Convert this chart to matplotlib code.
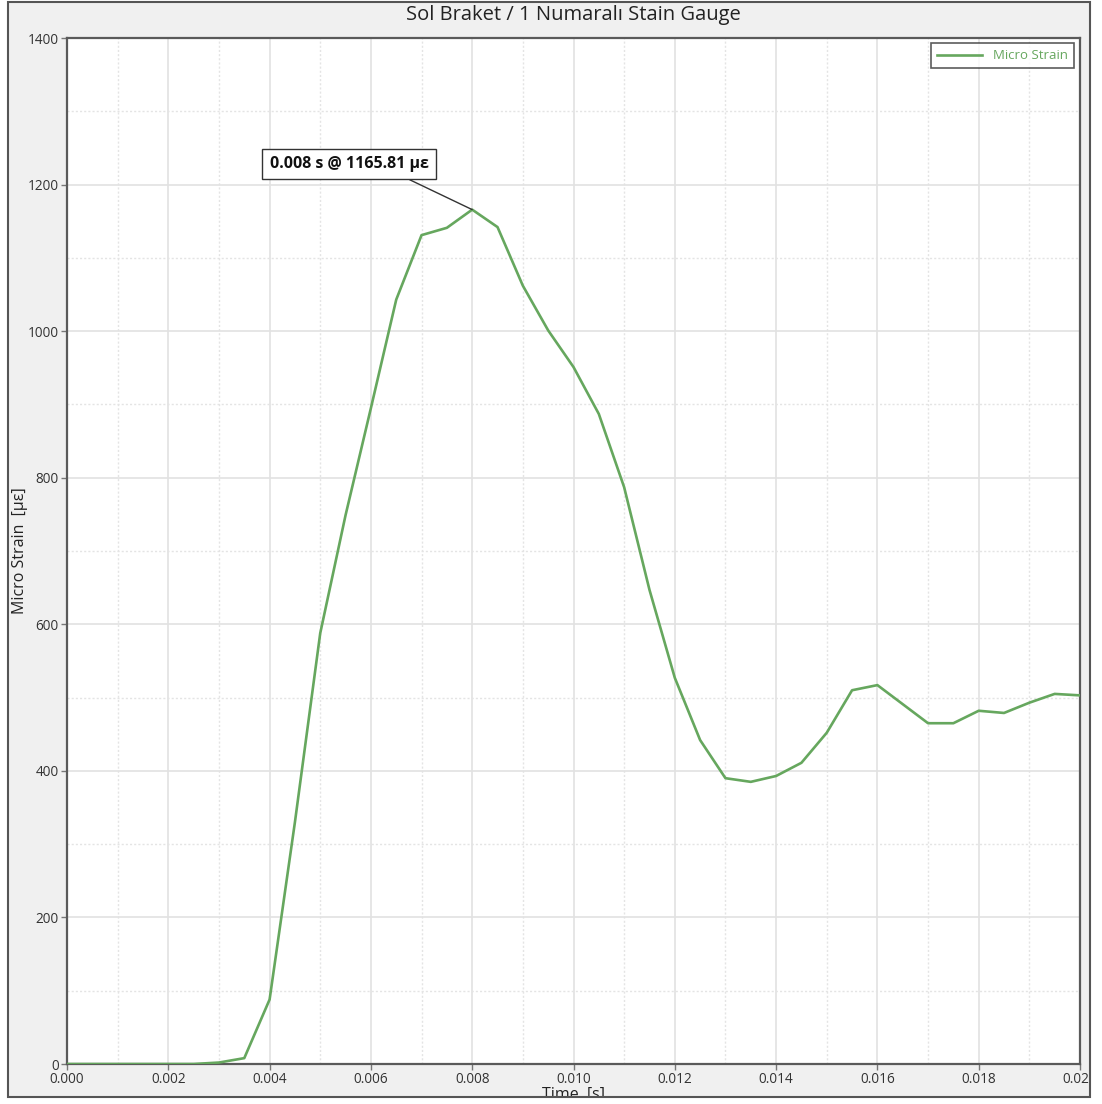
import matplotlib
matplotlib.use("Agg")
import matplotlib.pyplot as plt
from matplotlib.patches import Rectangle
from matplotlib.ticker import MultipleLocator, FormatStrFormatter

plt.rcParams['font.family'] = ['Open Sans', 'DejaVu Sans']

# Strain gauge record (time in seconds, micro strain)
time_s = [0.0000, 0.0005, 0.0010, 0.0015, 0.0020, 0.0025, 0.0030, 0.0035,
          0.0040, 0.0045, 0.0050, 0.0055, 0.0060, 0.0065, 0.0070, 0.0075,
          0.0080, 0.0085, 0.0090, 0.0095, 0.0100, 0.0105, 0.0110, 0.0115,
          0.0120, 0.0125, 0.0130, 0.0135, 0.0140, 0.0145, 0.0150, 0.0155,
          0.0160, 0.0165, 0.0170, 0.0175, 0.0180, 0.0185, 0.0190, 0.0195,
          0.0200]
micro_strain = [0, 0, 0, 0, 0, 0, 2, 8,
                88, 330, 588, 749, 895, 1043, 1131, 1141,
                1165.81, 1142, 1062, 1001, 951, 887, 787, 647,
                527, 442, 390, 385, 393, 411, 452, 510,
                517, 491, 465, 465, 482, 479, 493, 505,
                503]
peak_time = 0.008
peak_strain = 1165.81

title = "Sol Braket / 1 Numaralı Stain Gauge"
x_label = "Time  [s]"
y_label = "Micro Strain  [με]"
series_name = "Micro Strain"

W, H = 1102, 1104
fig = plt.figure(figsize=(W / 100, H / 100), dpi=100, facecolor='white')

# grey panel behind everything
fig.patches.append(Rectangle((8 / W, 1 - 1097 / H), (1090 - 8) / W, (1097 - 2) / H,
                             transform=fig.transFigure, facecolor='#f0f0f0',
                             edgecolor='none', zorder=-5))

ax = fig.add_axes([67 / W, 1 - 1064 / H, (1080 - 67) / W, (1064 - 38) / H])
ax.set_facecolor('white')

line_color = '#66a75e'
ax.plot(time_s, micro_strain, color=line_color, lw=1.9, label=series_name, zorder=3)

ax.set_xlim(0, 0.02)
ax.set_ylim(0, 1400)
ax.xaxis.set_major_locator(MultipleLocator(0.002))
ax.xaxis.set_minor_locator(MultipleLocator(0.001))
ax.yaxis.set_major_locator(MultipleLocator(200))
ax.yaxis.set_minor_locator(MultipleLocator(100))
ax.xaxis.set_major_formatter(FormatStrFormatter('%.3f'))

ax.grid(which='major', color='#e2e2e2', lw=1.2, ls='-')
ax.grid(which='minor', color='#e4e4e4', lw=1.0, ls=(0, (1.5, 1.5)))
ax.set_axisbelow(True)

for sp in ax.spines.values():
    sp.set_color('#5a5a5a')
    sp.set_linewidth(1.6)

ax.tick_params(which='major', direction='out', length=4, width=1, color='#777777',
               labelsize=9.8, labelcolor='#333333', pad=2)
ax.tick_params(which='minor', length=0)

ax.set_title(title, fontsize=14.5, color='#222222', pad=13)
ax.set_xlabel(x_label, fontsize=11.5, color='#222222', labelpad=0)
ax.set_ylabel(y_label, fontsize=11.5, color='#222222', labelpad=0)

leg = ax.legend(loc='upper right', fontsize=9.5, frameon=True, fancybox=False,
                handlelength=3.4, borderpad=0.45, borderaxespad=0.3,
                bbox_to_anchor=(0.9975, 0.9985))
leg.get_frame().set_edgecolor('#333333')
leg.get_frame().set_linewidth(1.2)
for t in leg.get_texts():
    t.set_color(line_color)

ax.annotate(f"{peak_time:.3f} s @ {peak_strain:.2f} με",
            xy=(peak_time, peak_strain), xytext=(0.00557, 1228),
            textcoords='data', ha='center', va='center',
            fontsize=11.5, fontweight='bold', color='#111111',
            bbox=dict(boxstyle='square,pad=0.45', fc='white', ec='#333333', lw=1.0),
            arrowprops=dict(arrowstyle='-', color='#333333', lw=1.0,
                            relpos=(0.78, 0.0), shrinkA=0, shrinkB=0),
            zorder=5)

# white margin outside the frame, then the frame outline
fig.patches.append(Rectangle((1090 / W, 0), 1 - 1090 / W, 1, transform=fig.transFigure,
                             facecolor='white', edgecolor='none', zorder=20))
fig.patches.append(Rectangle((0, 0), 1, 1 - 1097 / H, transform=fig.transFigure,
                             facecolor='white', edgecolor='none', zorder=20))
fig.patches.append(Rectangle((8 / W, 1 - 1097 / H), (1090 - 8) / W, (1097 - 2) / H,
                             transform=fig.transFigure, facecolor='none',
                             edgecolor='#555555', lw=1.5, zorder=21))

fig.savefig("out.png", dpi=100, facecolor='white')
